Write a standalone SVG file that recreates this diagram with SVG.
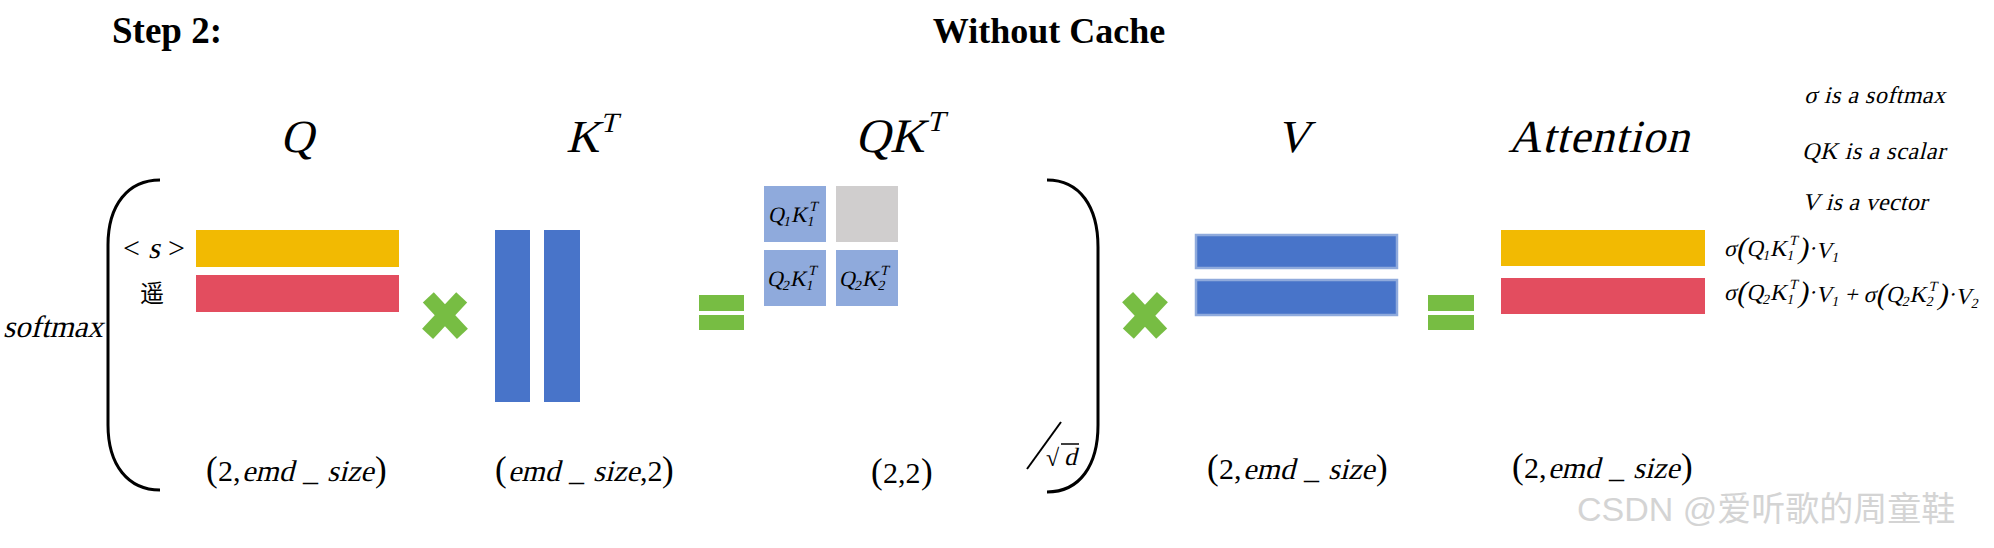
<svg xmlns="http://www.w3.org/2000/svg" width="1994" height="548" viewBox="0 0 1994 548">
<style>
.t{font-family:"Liberation Serif","Times New Roman",serif;fill:#000}
.b{font-weight:bold}
.yel{fill:#F2BA02}
.red{fill:#E34D5F}
.blue{fill:#4874C9}
.vb{fill:#4874C9;stroke:#8FAADC;stroke-width:2.5}
.lb{fill:#8FAADC}
.gray{fill:#D0CECE}
.grn{fill:#77BD43}
.br{fill:none;stroke:#000;stroke-width:3}
.wm{font-family:"Liberation Sans","Noto Sans CJK SC",sans-serif;fill:#d4d4d4}
.d{font-size:30px}
.p{font-size:35px}
</style>
<rect width="1994" height="548" fill="#fff"/>

<g id="titles">
<text class="t b" x="112" y="43" font-size="37">Step 2:</text>
<text class="t b" x="1049" y="43" font-size="36" text-anchor="middle">Without Cache</text>
</g>

<g id="labels">
<text class="t" transform="translate(280,152) skewX(-14)" font-size="46">Q</text>
<text class="t" transform="translate(566,152) skewX(-14)" font-size="46">K<tspan font-size="28" dx="-4" dy="-20">T</tspan></text>
<text class="t" transform="translate(855,152) skewX(-14)" font-size="48">QK<tspan font-size="29" dx="-3" dy="-21">T</tspan></text>
<text class="t" transform="translate(1276,152) skewX(-14)" font-size="46">V</text>
<text class="t" transform="translate(1508,152) skewX(-14)" font-size="46" textLength="181">Attention</text>
</g>

<g id="softmax-bracket">
<text class="t" transform="translate(3,337) skewX(-14)" font-size="31">softmax</text>
<path class="br" d="M160,180 C128,180 108,205 108,245 L108,425 C108,465 128,490 160,490"/>
<path class="br" d="M1047,180 C1080,180 1098,207 1098,247 L1098,425 C1098,465 1080,492 1047,492"/>
<line x1="1027" y1="469" x2="1061" y2="422" stroke="#000" stroke-width="2"/>
<text class="t" x="1046" y="466" font-size="24">√</text>
<line x1="1061" y1="444" x2="1079" y2="444" stroke="#000" stroke-width="1.5"/>
<text class="t" transform="translate(1064,465) skewX(-14)" font-size="25">d</text>
</g>

<g id="Q">
<text class="t" x="123" y="258" font-size="30">&lt;</text>
<text class="t" transform="translate(148,258) skewX(-14)" font-size="30">s</text>
<text class="t" x="168" y="258" font-size="30">&gt;</text>
<text x="140" y="302" font-size="24" font-family="Noto Sans CJK SC, sans-serif">遥</text>
<rect class="yel" x="196" y="230" width="203" height="37"/>
<rect class="red" x="196" y="275" width="203" height="37"/>
<text class="t p" x="206" y="481">(</text>
<text class="t d" x="218" y="481">2,</text>
<text class="t d" transform="translate(242,481) skewX(-14)">emd</text>
<text class="t d" x="303" y="481">_</text>
<text class="t d" transform="translate(327,481) skewX(-14)">size</text>
<text class="t p" x="375" y="481">)</text>
</g>

<g id="op-times-1">
<rect class="grn" x="420" y="308" width="50" height="15" transform="rotate(47 445 316)"/>
<rect class="grn" x="420" y="308" width="50" height="15" transform="rotate(-47 445 316)"/>
</g>

<g id="KT">
<rect class="blue" x="495" y="230" width="35" height="172"/>
<rect class="blue" x="544" y="230" width="36" height="172"/>
<text class="t p" x="495" y="481">(</text>
<text class="t d" transform="translate(508,481) skewX(-14)">emd</text>
<text class="t d" x="569" y="481">_</text>
<text class="t d" transform="translate(593,481) skewX(-14)">size</text>
<text class="t d" x="640" y="481">,2</text>
<text class="t p" x="662" y="481">)</text>
</g>

<g id="op-eq-1">
<rect class="grn" x="699" y="295" width="45" height="16"/>
<rect class="grn" x="699" y="315" width="45" height="15"/>
</g>

<g id="QKT">
<rect class="lb" x="764" y="186" width="62" height="56"/>
<rect class="gray" x="836" y="186" width="62" height="56"/>
<rect class="lb" x="764" y="250" width="62" height="56"/>
<rect class="lb" x="836" y="250" width="62" height="56"/>
<text class="t" transform="translate(768,222) skewX(-12)" font-size="22">Q<tspan font-size="14" dy="4">1</tspan><tspan dy="-4">K</tspan><tspan font-size="14" dy="-11">T</tspan><tspan font-size="14" dx="-8" dy="15">1</tspan></text>
<text class="t" transform="translate(767,286) skewX(-12)" font-size="22">Q<tspan font-size="14" dy="4">2</tspan><tspan dy="-4">K</tspan><tspan font-size="14" dy="-11">T</tspan><tspan font-size="14" dx="-8" dy="15">1</tspan></text>
<text class="t" transform="translate(839,286) skewX(-12)" font-size="22">Q<tspan font-size="14" dy="4">2</tspan><tspan dy="-4">K</tspan><tspan font-size="14" dy="-11">T</tspan><tspan font-size="14" dx="-8" dy="15">2</tspan></text>
<text class="t p" x="871" y="483">(</text>
<text class="t d" x="883" y="483">2,2</text>
<text class="t p" x="921" y="483">)</text>
</g>

<g id="op-times-2">
<rect class="grn" x="1120" y="308" width="50" height="15" transform="rotate(47 1145 315)"/>
<rect class="grn" x="1120" y="308" width="50" height="15" transform="rotate(-47 1145 315)"/>
</g>

<g id="V">
<rect class="vb" x="1196" y="235" width="201" height="33"/>
<rect class="vb" x="1196" y="280" width="201" height="35"/>
<text class="t p" x="1207" y="479">(</text>
<text class="t d" x="1219" y="479">2,</text>
<text class="t d" transform="translate(1243,479) skewX(-14)">emd</text>
<text class="t d" x="1304" y="479">_</text>
<text class="t d" transform="translate(1328,479) skewX(-14)">size</text>
<text class="t p" x="1376" y="479">)</text>
</g>

<g id="op-eq-2">
<rect class="grn" x="1428" y="295" width="46" height="16"/>
<rect class="grn" x="1428" y="315" width="46" height="15"/>
</g>

<g id="Attention">
<rect class="yel" x="1501" y="230" width="204" height="36"/>
<rect class="red" x="1501" y="278" width="204" height="36"/>
<text class="t p" x="1512" y="478">(</text>
<text class="t d" x="1524" y="478">2,</text>
<text class="t d" transform="translate(1548,478) skewX(-14)">emd</text>
<text class="t d" x="1609" y="478">_</text>
<text class="t d" transform="translate(1633,478) skewX(-14)">size</text>
<text class="t p" x="1681" y="478">)</text>
<text class="t" transform="translate(1724,256) skewX(-12)" font-size="23">σ<tspan font-size="30" dy="2">(</tspan><tspan dy="-2">Q</tspan><tspan font-size="14" dy="4">1</tspan><tspan dy="-4">K</tspan><tspan font-size="14" dy="-11">T</tspan><tspan font-size="14" dx="-8" dy="15">1</tspan><tspan font-size="30" dx="4" dy="-2">)</tspan><tspan dy="-2">·</tspan><tspan dy="2">V</tspan><tspan font-size="14" dy="4">1</tspan></text>
<text class="t" transform="translate(1724,300) skewX(-12)" font-size="23">σ<tspan font-size="30" dy="2">(</tspan><tspan dy="-2">Q</tspan><tspan font-size="14" dy="4">2</tspan><tspan dy="-4">K</tspan><tspan font-size="14" dy="-11">T</tspan><tspan font-size="14" dx="-8" dy="15">1</tspan><tspan font-size="30" dx="4" dy="-2">)</tspan><tspan dy="-2">·</tspan><tspan dy="2">V</tspan><tspan font-size="14" dy="4">1</tspan><tspan dy="-4"> + </tspan><tspan>σ</tspan><tspan font-size="30" dy="2">(</tspan><tspan dy="-2">Q</tspan><tspan font-size="14" dy="4">2</tspan><tspan dy="-4">K</tspan><tspan font-size="14" dy="-11">T</tspan><tspan font-size="14" dx="-8" dy="15">2</tspan><tspan font-size="30" dx="4" dy="-2">)</tspan><tspan dy="-2">·</tspan><tspan dy="2">V</tspan><tspan font-size="14" dy="4">2</tspan></text>
</g>

<g id="notes">
<text class="t" transform="translate(1804,103) skewX(-14)" font-size="24" textLength="141">σ is a softmax</text>
<text class="t" transform="translate(1802,159) skewX(-14)" font-size="24" textLength="143">QK is a scalar</text>
<text class="t" transform="translate(1802,210) skewX(-14)" font-size="24" textLength="125">V is a vector</text>
</g>

<g id="watermark">
<text class="wm" x="1577" y="521" font-size="34">CSDN @爱听歌的周童鞋</text>
</g>
</svg>
